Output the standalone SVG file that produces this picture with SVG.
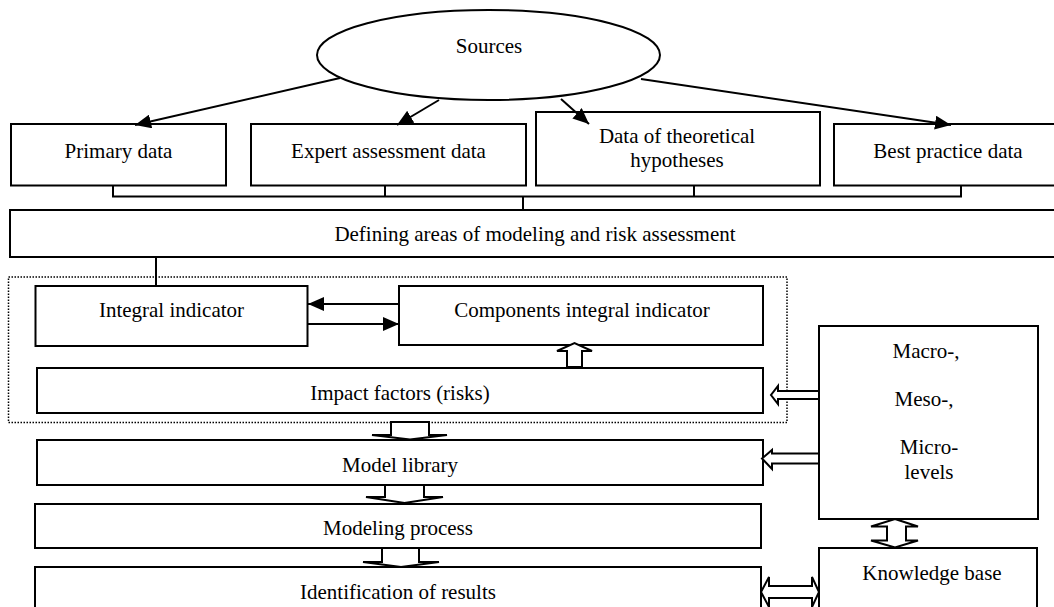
<svg xmlns="http://www.w3.org/2000/svg" width="1054" height="607" viewBox="0 0 1054 607">
  <style>
    .box { fill: #ffffff; stroke: #000000; stroke-width: 2; }
    .line { fill: none; stroke: #000000; stroke-width: 2; }
    .block { fill: #ffffff; stroke: #000000; stroke-width: 2; stroke-linejoin: miter; }
    .frame { fill: none; stroke: #000000; stroke-width: 1.5; stroke-dasharray: 1.5 1.5; }
    text { font-family: "Liberation Serif", "DejaVu Serif", serif; font-size: 21px; fill: #000000; text-anchor: middle; }
  </style>
  <defs>
    <marker id="head" viewBox="0 0 16 14" refX="16" refY="7" markerWidth="16" markerHeight="14" markerUnits="userSpaceOnUse" orient="auto">
      <path d="M0,0 L16,7 L0,14 Z" fill="#000000"/>
    </marker>
  </defs>
  <rect width="1054" height="607" fill="#ffffff"/>

  <!-- grouping frame around the indicator block -->
  <rect id="indicator-frame" class="frame" x="8.5" y="277" width="778.5" height="145.5"/>

  <g id="sources">
    <ellipse class="box" cx="488.5" cy="55" rx="171.5" ry="45"/>
    <text x="489" y="53">Sources</text>
  </g>
  <g id="primary-data">
    <rect class="box" x="11" y="124" width="215" height="61.5"/>
    <text x="118.5" y="158">Primary data</text>
  </g>
  <g id="expert-data">
    <rect class="box" x="251" y="124" width="275" height="61.5"/>
    <text x="388.5" y="158">Expert assessment data</text>
  </g>
  <g id="theoretical-data">
    <rect class="box" x="536" y="112" width="284" height="73.5"/>
    <text x="677" y="143">Data of theoretical</text>
    <text x="677" y="167">hypotheses</text>
  </g>
  <g id="best-practice-data">
    <rect class="box" x="834" y="124" width="240" height="61.5"/>
    <text x="948" y="158">Best practice data</text>
  </g>
  <g id="defining-areas">
    <rect class="box" x="10" y="210" width="1070" height="47"/>
    <text x="535" y="241">Defining areas of modeling and risk assessment</text>
  </g>
  <g id="integral-indicator">
    <rect class="box" x="35.5" y="286" width="272" height="60"/>
    <text x="171.5" y="317">Integral indicator</text>
  </g>
  <g id="components-indicator">
    <rect class="box" x="399" y="286" width="364" height="59"/>
    <text x="582" y="317">Components integral indicator</text>
  </g>
  <g id="impact-factors">
    <rect class="box" x="37" y="368" width="726" height="45"/>
    <text x="400" y="400">Impact factors (risks)</text>
  </g>
  <g id="levels">
    <rect class="box" x="819" y="326" width="219" height="193"/>
    <text x="926" y="358">Macro-,</text>
    <text x="924" y="406">Meso-,</text>
    <text x="929" y="454">Micro-</text>
    <text x="929" y="479">levels</text>
  </g>
  <g id="model-library">
    <rect class="box" x="37" y="440" width="726" height="45"/>
    <text x="400" y="472">Model library</text>
  </g>
  <g id="modeling-process">
    <rect class="box" x="35" y="504" width="726" height="44"/>
    <text x="398" y="535">Modeling process</text>
  </g>
  <g id="identification">
    <rect class="box" x="35" y="567" width="726" height="60"/>
    <text x="398" y="599">Identification of results</text>
  </g>
  <g id="knowledge-base">
    <rect class="box" x="819" y="548" width="218" height="70"/>
    <text x="932" y="580">Knowledge base</text>
  </g>

  <g id="connectors">
    <!-- sources fan-out -->
    <line class="line" x1="340" y1="78" x2="135" y2="125" marker-end="url(#head)"/>
    <line class="line" x1="439" y1="100" x2="397" y2="125" marker-end="url(#head)"/>
    <line class="line" x1="561" y1="99" x2="589" y2="124" marker-end="url(#head)"/>
    <line class="line" x1="641" y1="79" x2="951" y2="125" marker-end="url(#head)"/>
    <!-- bracket collecting the data boxes -->
    <path class="line" d="M113,185.5 V196.5 H961 V185.5 M385,185.5 V196.5 M694,185.5 V196.5 M523,196.5 V210"/>
    <!-- defining areas to integral indicator -->
    <line class="line" x1="156" y1="257" x2="156" y2="286"/>
    <!-- integral indicator exchange -->
    <line class="line" x1="399" y1="304" x2="308" y2="304" marker-end="url(#head)"/>
    <line class="line" x1="308" y1="324" x2="399" y2="324" marker-end="url(#head)"/>
    <!-- block arrows -->
    <polygon class="block" points="567,367 567,351 557,351 574.5,343 592,351 582,351 582,367"/>
    <polygon class="block" points="819,391 778,391 778,386 771,395 778,404 778,399 819,399"/>
    <polygon class="block" points="819,453.5 772,453.5 772,450 762,458.5 772,469 772,463.5 819,463.5"/>
    <polygon class="block" points="391,422 429,422 429,435 447,435 410,439.5 372,435 391,435"/>
    <polygon class="block" points="385,485 424,485 424,497 443,497 404.5,503 366,497 385,497"/>
    <polygon class="block" points="382,548 419,548 419,562 439,562 401,567 363,562 382,562"/>
    <polygon class="block" points="895,519 918,526.5 906,526.5 906,540.5 918,540.5 895,547.5 871,540.5 887,540.5 887,526.5 871,526.5"/>
    <polygon class="block" points="761,592 769,577 769,586 812,586 812,577 819,592 812,607 812,598 769,598 769,607"/>
  </g>
</svg>
